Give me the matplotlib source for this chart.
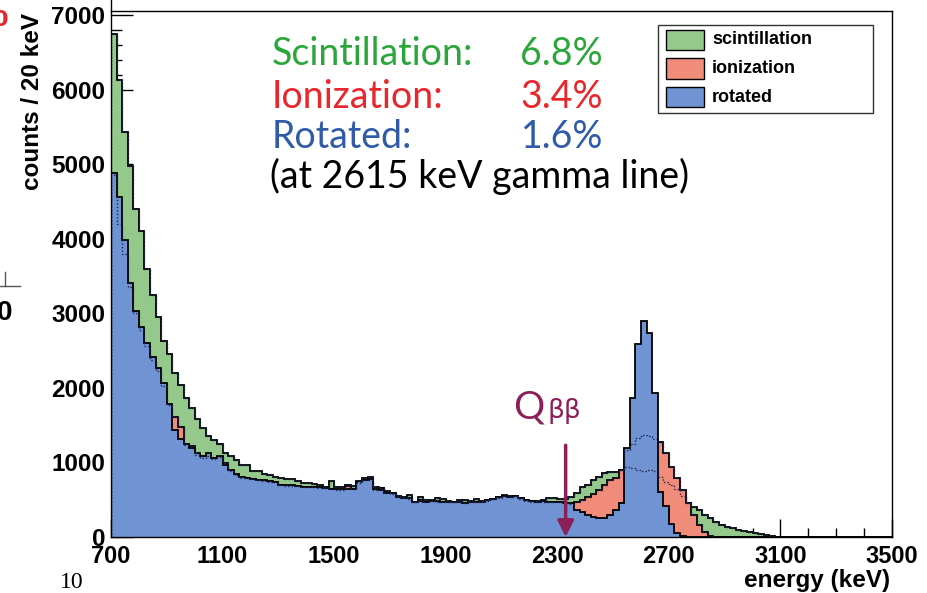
import numpy as np
import matplotlib
matplotlib.use('Agg')
import matplotlib.pyplot as plt
from matplotlib.patches import Rectangle
from matplotlib.lines import Line2D

# energy binning (keV)
e_min = 700
e_max = 3500
bin_width = 20

# counts per 20 keV bin, 700 ... 3480 keV
scintillation = [
    6750, 6130, 5430, 4980, 4400, 4100, 3590, 3240, 2950, 2630,
    2460, 2200, 2040, 1860, 1725, 1580, 1460, 1355, 1300, 1245,
    1125, 1085, 1030, 968, 965, 885, 880, 845, 830, 808,
    786, 773, 775, 750, 728, 720, 710, 697, 666, 750,
    666, 670, 697, 680, 724, 786, 808, 666, 652, 621,
    585, 541, 541, 564, 474, 541, 496, 490, 520, 515,
    480, 475, 470, 500, 475, 505, 480, 495, 515, 535,
    560, 545, 555, 525, 495, 485, 480, 490, 520, 518,
    510, 505, 541, 586, 666, 697, 764, 809, 862, 876,
    870, 900, 943, 930, 900, 880, 900, 880, 810, 740,
    700, 640, 554, 451, 407, 362, 295, 250, 206, 161,
    139, 116, 94, 85, 72, 49, 40, 27, 10, 5,
    0, 0, 0, 0, 0, 0, 0, 0, 0, 0,
    0, 0, 0, 0, 0, 0, 0, 0, 0, 0,
]
ionization = [
    4850, 4200, 3800, 3350, 3000, 2780, 2560, 2380, 2230, 2030,
    1770, 1613, 1479, 1240, 1224, 1100, 1060, 1090, 1040, 1070,
    990, 890, 830, 790, 785, 775, 760, 750, 740, 735,
    695, 690, 690, 680, 670, 668, 665, 660, 655, 640,
    635, 635, 686, 640, 735, 760, 770, 635, 660, 585,
    580, 545, 520, 515, 465, 500, 465, 478, 470, 465,
    470, 465, 490, 455, 480, 470, 465, 485, 505, 525,
    550, 535, 545, 515, 485, 475, 470, 475, 465, 470,
    465, 455, 445, 474, 496, 541, 580, 629, 697, 764,
    786, 894, 1170, 1250, 1330, 1370, 1360, 1310, 1278, 1121,
    943, 786, 630, 451, 295, 161, 72, 20, 5, 0,
    0, 0, 0, 0, 0, 0, 0, 0, 0, 0,
    0, 0, 0, 0, 0, 0, 0, 0, 0, 0,
    0, 0, 0, 0, 0, 0, 0, 0, 0, 0,
]
rotated = [
    4880, 4560, 3980, 3400, 3030, 2820, 2600, 2420, 2270, 2060,
    1790, 1440, 1320, 1250, 1190, 1120, 1080, 1120, 1055, 1090,
    965, 905, 850, 800, 790, 780, 770, 764, 745, 742,
    700, 697, 697, 690, 675, 675, 672, 666, 660, 645,
    640, 640, 638, 645, 750, 765, 780, 640, 635, 590,
    585, 530, 525, 520, 470, 480, 470, 485, 480, 470,
    475, 470, 465, 460, 470, 475, 470, 490, 510, 530,
    555, 540, 550, 520, 490, 480, 475, 480, 470, 475,
    470, 460, 450, 362, 340, 295, 273, 250, 250, 295,
    362, 451, 1189, 1870, 2590, 2890, 2738, 1926, 600, 420,
    180, 60, 15, 0, 0, 0, 0, 0, 0, 0,
    0, 0, 0, 0, 0, 0, 0, 0, 0, 0,
    0, 0, 0, 0, 0, 0, 0, 0, 0, 0,
    0, 0, 0, 0, 0, 0, 0, 0, 0, 0,
]

x_ticks = [700, 1100, 1500, 1900, 2300, 2700, 3100, 3500]
y_ticks = [0, 1000, 2000, 3000, 4000, 5000, 6000, 7000]

series_names = ["scintillation", "ionization", "rotated"]
resolution_labels = ["Scintillation:", "Ionization:", "Rotated:"]
resolution_values = ["6.8%", "3.4%", "1.6%"]
note = "(at 2615 keV gamma line)"
q_energy = 2330  # where the arrow points

fill_colors = ['#95c98c', '#f28c7a', '#6f93d3']
text_colors = ['#2ba63a', '#e8262b', '#2f5ba8']
maroon = '#8c1f57'

W, H = 927, 593


def fx(px):
    return px / W


def fy(py):
    return 1 - py / H


fig = plt.figure(figsize=(W / 100, H / 100), dpi=100)
ax = fig.add_axes([fx(111), fy(537), fx(892) - fx(111), fy(11) - fy(537)])

edges = np.arange(e_min, e_max + bin_width, bin_width)
series = [scintillation, ionization, rotated]

# filled histograms, drawn in order so the rotated one ends on top
for i, (vals, face) in enumerate(zip(series, fill_colors)):
    ax.stairs(vals, edges, fill=True, facecolor=face, edgecolor='none', zorder=2 + i)
    ax.stairs(vals, edges, color='black', lw=1.3, zorder=2.5 + i)

# hidden outlines show through as dotted lines
for vals in series[:2]:
    ax.stairs(vals, edges, color='#1b2550', lw=1.0, linestyle=(0, (1, 1.5)), zorder=6)

ax.set_xlim(e_min, e_max)
ax.set_ylim(0, 7054)
ax.set_xticks(x_ticks)
ax.set_xticks(np.arange(e_min, e_max + 1, 100), minor=True)
ax.set_yticks(y_ticks)
ax.set_yticks(np.arange(0, 7001, 200), minor=True)
ax.tick_params(axis='x', which='major', direction='in', length=13, width=1, pad=6, labelsize=17)
ax.tick_params(axis='x', which='minor', direction='in', length=6.5, width=1)
ax.tick_params(axis='y', which='major', direction='in', length=16, width=1, pad=4, labelsize=17.5)
ax.tick_params(axis='y', which='minor', direction='in', length=8, width=1)
for lbl in ax.get_xticklabels() + ax.get_yticklabels():
    lbl.set_fontweight('bold')
    lbl.set_fontfamily('Liberation Sans')
for sp in ax.spines.values():
    sp.set_linewidth(1.0)
    sp.set_zorder(10)

# axis titles (ROOT style, aligned to the ends)
fig.text(fx(33), fy(13), "counts / 20 keV", rotation=90, ha='center', va='top',
         fontsize=17.5, fontweight='bold', family='Liberation Sans')
fig.text(fx(890), fy(580), "energy (keV)", ha='right', va='center',
         fontsize=17.5, fontweight='bold', family='Liberation Sans')

# resolution text block
baselines = [65, 108, 148]
for lab, val, col, yb in zip(resolution_labels, resolution_values, text_colors, baselines):
    fig.text(fx(272), fy(yb), lab, color=col, fontsize=27, family='Lato', va='baseline')
    fig.text(fx(603), fy(yb), val, color=col, fontsize=27, family='Lato', va='baseline', ha='right')
fig.text(fx(270), fy(188), note, color='black', fontsize=27, family='Lato', va='baseline')

# legend box
fig.add_artist(Rectangle((fx(658), fy(113)), fx(873) - fx(658), fy(25) - fy(113),
                         transform=fig.transFigure, facecolor='white', edgecolor='#333333', lw=1.0))
swatch_rows = [(30, 50), (58, 79), (87, 107)]
for name, face, (y0, y1) in zip(series_names, fill_colors, swatch_rows):
    fig.add_artist(Rectangle((fx(666), fy(y1)), fx(704) - fx(666), fy(y0) - fy(y1),
                             transform=fig.transFigure, facecolor=face, edgecolor='black', lw=1.0))
    fig.text(fx(712), fy((y0 + y1) / 2), name, ha='left', va='center',
             fontsize=13, fontweight='bold', family='Liberation Sans')

# Q-value marker
fig.text(fx(513), fy(418), "Q", color=maroon, fontsize=28, family='Lato', va='baseline')
fig.text(fx(547), fy(418), "ββ", color=maroon, fontsize=19, family='DejaVu Sans', va='baseline')
ax.annotate('', xy=(q_energy, 0), xytext=(q_energy, 1230),
            arrowprops=dict(arrowstyle='-|>', color=maroon, lw=2.5, mutation_scale=24,
                            shrinkA=0, shrinkB=0), zorder=12)

# leftovers of the slide around the plot
fig.text(fx(-7), fy(20), "0", color='#e8262b', fontsize=16, fontweight='bold', va='center')
fig.text(fx(-3), fy(313), "0", color='black', fontsize=20, fontweight='bold', va='center',
         family='Liberation Sans')
fig.add_artist(Line2D([fx(0), fx(20)], [fy(286), fy(286)], transform=fig.transFigure, color='#555555', lw=1))
fig.add_artist(Line2D([fx(5), fx(5)], [fy(272), fy(286)], transform=fig.transFigure, color='#555555', lw=1))
fig.add_artist(Line2D([fx(111), fx(111)], [fy(0), fy(11)], transform=fig.transFigure, color='black', lw=1))
fig.text(fx(72), fy(582), "10", ha='center', va='center', fontsize=17, family='Liberation Serif')

fig.savefig('out.png', dpi=100)
